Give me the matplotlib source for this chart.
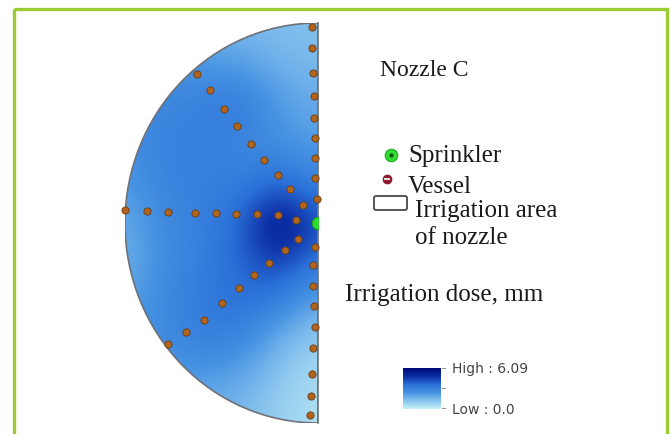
import numpy as np
import matplotlib.pyplot as plt
from matplotlib.colors import LinearSegmentedColormap
from matplotlib.patches import Wedge, Rectangle, FancyBboxPatch

# vessel positions (normalised radius, sprinkler at 0,0)
edge_n_x = [-0.03, -0.03, -0.025, -0.02, -0.02, -0.015, -0.015, -0.015, -0.005]
edge_n_y = [0.98, 0.875, 0.75, 0.635, 0.525, 0.425, 0.325, 0.225, 0.12]
edge_s_x = [-0.015, -0.025, -0.025, -0.02, -0.015, -0.025, -0.03, -0.035, -0.04]
edge_s_y = [-0.12, -0.21, -0.315, -0.415, -0.52, -0.625, -0.755, -0.865, -0.96]
west_x = [-1.0, -0.886, -0.777, -0.637, -0.528, -0.425, -0.316, -0.207, -0.114]
west_y = [0.065, 0.06, 0.055, 0.05, 0.05, 0.045, 0.045, 0.04, 0.015]
nw_x = [-0.627, -0.560, -0.487, -0.420, -0.347, -0.280, -0.207, -0.145, -0.078]
nw_y = [0.745, 0.665, 0.57, 0.485, 0.395, 0.315, 0.24, 0.17, 0.09]
sw_x = [-0.104, -0.171, -0.254, -0.332, -0.409, -0.497, -0.591, -0.684, -0.777]
sw_y = [-0.08, -0.135, -0.20, -0.26, -0.325, -0.40, -0.485, -0.545, -0.605]

# irrigation dose (mm) read on a coarse grid, rows y=1..-1, cols x=-1..0
grid_x = [-1.0, -0.8, -0.6, -0.4, -0.2, 0.0]
grid_y = [1.0, 0.8, 0.6, 0.4, 0.2, 0.0, -0.2, -0.4, -0.6, -0.8, -1.0]
dose = np.array([
    [1.6, 1.6, 1.5, 1.4, 1.3, 1.3],
    [2.3, 2.3, 2.3, 2.1, 1.6, 1.4],
    [2.7, 2.9, 3.1, 3.4, 2.2, 1.8],
    [2.5, 3.0, 3.1, 2.9, 2.5, 2.1],
    [2.2, 3.0, 3.1, 3.1, 3.8, 2.9],
    [1.8, 2.7, 3.1, 3.8, 6.2, 4.3],
    [1.6, 2.7, 3.1, 3.8, 4.7, 3.3],
    [2.0, 2.8, 3.3, 3.7, 3.0, 1.8],
    [2.2, 2.7, 3.1, 2.8, 1.6, 0.8],
    [2.0, 2.1, 2.1, 1.8, 1.0, 0.5],
    [1.8, 1.8, 1.6, 1.4, 0.8, 0.4],
])
dose_low, dose_high = 0.0, 6.09

cmap = LinearSegmentedColormap.from_list(
    "dose", ["#c4f0f6", "#86c2ee", "#4692e2", "#2a70d8", "#0c2fa6", "#000a78"])

fig = plt.figure(figsize=(6.71, 4.35), dpi=100)

ax = fig.add_axes([125 / 671, 11 / 435, 193 / 671, 400 / 435])
ax.set_xlim(-1, 0)
ax.set_ylim(-1, 1)
ax.axis("off")

dx = (grid_x[1] - grid_x[0]) / 2
dy = (grid_y[0] - grid_y[1]) / 2
im = ax.imshow(dose, cmap=cmap, vmin=dose_low, vmax=dose_high, aspect="auto",
               interpolation="bicubic",
               extent=(grid_x[0] - dx, grid_x[-1] + dx, grid_y[-1] - dy, grid_y[0] + dy))
half = Wedge((0, 0), 1, 90, 270, facecolor="none", edgecolor="#6e7278", lw=1.2,
             transform=ax.transData)
ax.add_patch(half)
im.set_clip_path(half)
ax.plot([0, 0], [-1, 1], color="#6e7278", lw=1.2, clip_on=False)

vx = edge_n_x + edge_s_x + west_x + nw_x + sw_x
vy = edge_n_y + edge_s_y + west_y + nw_y + sw_y
ax.plot(vx, vy, "o", ms=5.2, mfc="#b0641c", mec="#6a3c14", mew=0.6, clip_on=False)
ax.plot([0.0], [0.0], "o", ms=9, mfc="#2fdc2f", mec="#16a016", mew=0.8)

# overlay in pixel units for the legend
ov = fig.add_axes([0, 0, 1, 1])
ov.set_xlim(0, 671)
ov.set_ylim(435, 0)
ov.axis("off")
ov.patch.set_alpha(0)
ov.add_patch(Rectangle((14, 10), 653, 440, fill=False, ec="#9acd32", lw=2.4))

serif = "Liberation Serif"
ov.text(380, 70, "Nozzle C", family=serif, fontsize=17, va="center", color="#1a1a1a")
ov.plot(391, 156, "o", ms=9, mfc="#2fdc2f", mec="#18b018", mew=0.8)
ov.plot(391, 156, "o", ms=2, color="#105010")
ov.text(408, 156, "Sprinkler", family=serif, fontsize=18, va="center", color="#1a1a1a")
ov.plot(387, 180, "o", ms=6, mfc="#8b1a2a", mec="#8b1a2a")
ov.plot(387, 180, "_", ms=4, color="white", mew=1.2)
ov.text(408, 187, "Vessel", family=serif, fontsize=18, va="center", color="#1a1a1a")
ov.add_patch(FancyBboxPatch((374, 197), 33, 14, boxstyle="round,pad=0,rounding_size=2",
                            fc="white", ec="#555555", lw=1.4))
ov.text(415, 211, "Irrigation area", family=serif, fontsize=18, va="center", color="#1a1a1a")
ov.text(415, 238, "of nozzle", family=serif, fontsize=18, va="center", color="#1a1a1a")
ov.text(345, 295, "Irrigation dose, mm", family=serif, fontsize=18, va="center", color="#1a1a1a")

cax = fig.add_axes([403 / 671, 1 - 410 / 435, 38 / 671, 41 / 435])
cax.imshow(np.linspace(dose_high, dose_low, 50).reshape(-1, 1), cmap=cmap,
           vmin=dose_low, vmax=dose_high, aspect="auto")
cax.axis("off")
for ty in (369, 389, 409):
    ov.plot([442, 445], [ty, ty], color="#999999", lw=0.8)
ov.text(452, 369, "High : %.2f" % dose_high, fontsize=10, va="center", color="#444444")
ov.text(452, 410, "Low : %.1f" % dose_low, fontsize=10, va="center", color="#444444")

fig.savefig("out.png", dpi=100)
